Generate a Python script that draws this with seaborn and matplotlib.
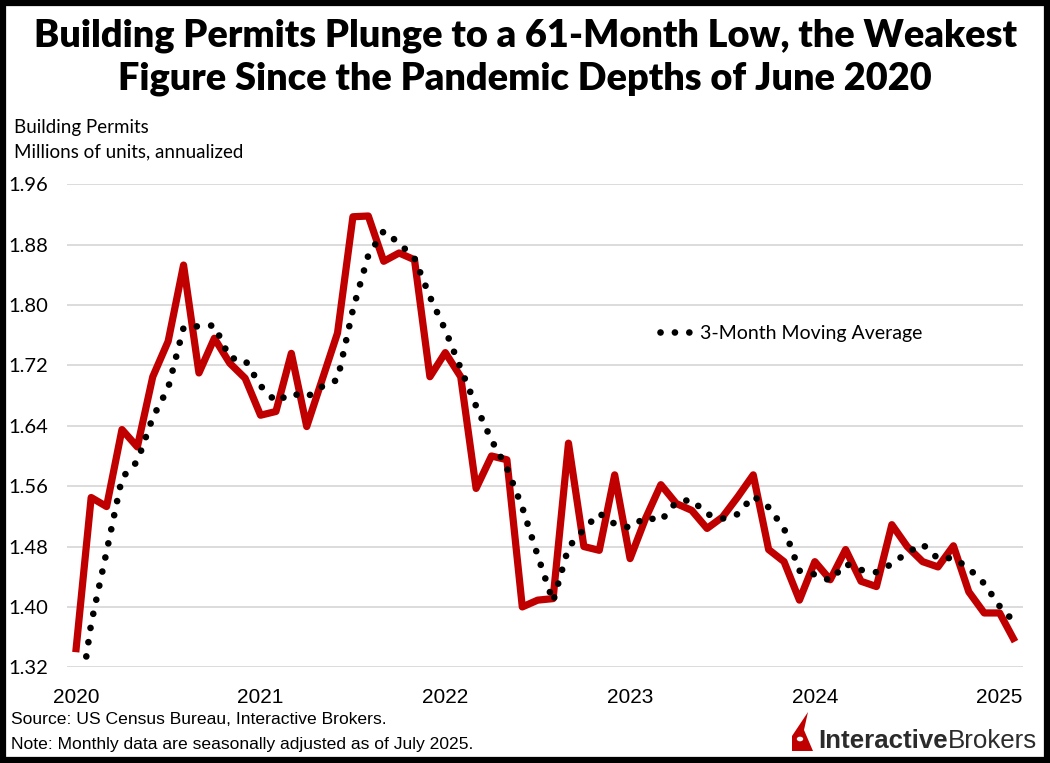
import matplotlib
matplotlib.use("Agg")
import matplotlib.pyplot as plt
import seaborn as sns
import pandas as pd
from matplotlib import font_manager
from matplotlib.patches import Rectangle, Polygon, Circle

# Monthly building permits, Jun 2020 .. Jul 2025 (millions, annualized)
permits = [1.340, 1.545, 1.533, 1.635, 1.612, 1.705, 1.752, 1.853, 1.710, 1.756,
           1.723, 1.703, 1.654, 1.659, 1.736, 1.639, 1.701, 1.763, 1.917, 1.918,
           1.858, 1.869, 1.860, 1.705, 1.737, 1.705, 1.557, 1.600, 1.595, 1.400,
           1.409, 1.411, 1.617, 1.480, 1.475, 1.575, 1.464, 1.517, 1.562, 1.537,
           1.528, 1.504, 1.519, 1.546, 1.575, 1.476, 1.460, 1.409, 1.460, 1.436,
           1.476, 1.434, 1.427, 1.509, 1.480, 1.460, 1.453, 1.481, 1.420, 1.392,
           1.392, 1.354]

# 3-month moving average
moving_avg = [1.240, 1.378, 1.473, 1.571, 1.593, 1.651, 1.690, 1.770, 1.772, 1.773,
              1.730, 1.727, 1.693, 1.672, 1.683, 1.678, 1.692, 1.701, 1.794, 1.866,
              1.898, 1.882, 1.862, 1.811, 1.767, 1.716, 1.666, 1.621, 1.584, 1.532,
              1.468, 1.407, 1.479, 1.503, 1.524, 1.510, 1.505, 1.519, 1.514, 1.539,
              1.542, 1.523, 1.517, 1.523, 1.547, 1.532, 1.504, 1.448, 1.443, 1.435,
              1.457, 1.449, 1.446, 1.457, 1.472, 1.483, 1.464, 1.465, 1.451, 1.431,
              1.401, 1.379]

year_labels = ["2020", "2021", "2022", "2023", "2024", "2025"]
y_ticks = [1.32, 1.40, 1.48, 1.56, 1.64, 1.72, 1.80, 1.88, 1.96]

df = pd.DataFrame({"month": range(len(permits)),
                   "permits": permits,
                   "ma": moving_avg})

sns.set_theme(style="white")
names = {f.name for f in font_manager.fontManager.ttflist}
narrow = "Liberation Sans Narrow" if "Liberation Sans Narrow" in names else "Liberation Sans"
plt.rcParams["font.family"] = ["Lato", "DejaVu Sans"]
plt.rcParams["text.color"] = "black"

W, H = 1050, 763
fig = plt.figure(figsize=(W / 100, H / 100), dpi=100)
ax = fig.add_axes([67.3 / W, 1 - 667.3 / H, 955.4 / W, 483 / H])

red = "#C00000"
sns.lineplot(data=df, x="month", y="permits", ax=ax, color=red, linewidth=5.2,
             solid_joinstyle="round", solid_capstyle="butt", zorder=3)
sns.lineplot(data=df, x="month", y="ma", ax=ax, color="black", linewidth=4.8,
             linestyle=(0, (0.01, 2.15)), dash_capstyle="round", zorder=4,
             label="3-Month Moving Average")

ax.set_xlim(-0.55, 61.5)
ax.set_ylim(1.32, 1.96)
ax.set_yticks(y_ticks)
ax.set_yticklabels([f"{v:.2f}" for v in y_ticks])
ax.set_xticks(range(0, 61, 12))
ax.set_xticklabels(year_labels)
ax.set_xlabel("")
ax.set_ylabel("")
ax.grid(axis="y", color="#d9d9d9", linewidth=1.3)
ax.grid(axis="x", visible=False)
for s in ax.spines.values():
    s.set_visible(False)
ax.tick_params(axis="y", length=0, pad=14, labelsize=14.5, labelcolor="black")
ax.tick_params(axis="x", length=0, pad=15, labelsize=15, labelcolor="black")
for t in ax.get_xticklabels():
    t.set_fontfamily(narrow)

leg = ax.legend(loc="center left", bbox_to_anchor=(0.620, 0.692), frameon=False,
                fontsize=14, handlelength=1.75, handletextpad=0.35,
                borderpad=0, borderaxespad=0)

# titles and notes
fig.text(0.5, 1 - 36 / H, "Building Permits Plunge to a 61-Month Low, the Weakest",
         ha="center", va="center", fontsize=27.3, fontweight="heavy")
fig.text(0.5, 1 - 79 / H, "Figure Since the Pandemic Depths of June 2020",
         ha="center", va="center", fontsize=27.3, fontweight="heavy")
fig.text(14 / W, 1 - 127 / H, "Building Permits", ha="left", va="center", fontsize=13.5)
fig.text(14 / W, 1 - 152 / H, "Millions of units, annualized", ha="left", va="center",
         fontsize=13.5)
fig.text(11 / W, 1 - 720 / H, "Source: US Census Bureau, Interactive Brokers.",
         ha="left", va="center", fontsize=12.6, family=narrow)
fig.text(11 / W, 1 - 745 / H, "Note: Monthly data are seasonally adjusted as of July 2025.",
         ha="left", va="center", fontsize=12.6, family=narrow)

# logo
def fpt(x, y):
    return (x / W, 1 - y / H)

fig.patches.append(Polygon([fpt(808, 712), fpt(792, 736), fpt(792, 751), fpt(813, 751),
                            fpt(804, 730)], closed=True, facecolor=red, edgecolor="none",
                           transform=fig.transFigure))
fig.patches.append(Circle(fpt(800, 739), 3.2 / W, facecolor="white", edgecolor="none",
                          transform=fig.transFigure))
t1 = fig.text(818 / W, 1 - 741 / H, "Interactive", ha="left", va="center", fontsize=18.6,
              fontweight="bold", family="Liberation Sans", color="#2b2b2b")
fig.canvas.draw()
bb = t1.get_window_extent()
fig.text(bb.x1 / W, 1 - 741 / H, "Brokers", ha="left", va="center", fontsize=18.6,
         family="Liberation Sans", color="#2b2b2b")

# black frame
fig.patches.append(Rectangle((3 / W, 3 / H), 1 - 6 / W, 1 - 6 / H, fill=False,
                             edgecolor="black", linewidth=4.5, transform=fig.transFigure))

fig.savefig("out.png", dpi=100)
